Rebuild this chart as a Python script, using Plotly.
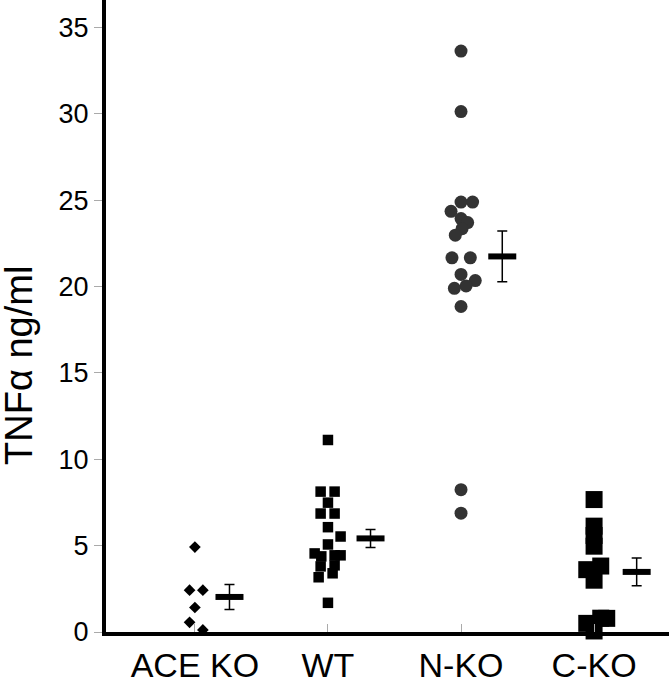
import plotly.graph_objects as go

groups = ["ACE KO", "WT", "N-KO", "C-KO"]

# values (ng/ml) and horizontal scatter offsets (in category units)
ace_vals = [4.92, 2.42, 2.42, 1.42, 0.56, 0.12]
ace_offs = [0.0, -0.04, 0.06, 0.0, -0.04, 0.06]

wt_vals = [11.12, 8.13, 8.13, 7.49, 6.86, 6.86, 6.07, 5.53, 5.07, 4.55, 4.38, 4.44, 4.44,
           3.80, 3.86, 3.40, 3.17, 1.69]
wt_offs = [0.0, -0.055, 0.05, 0.0, -0.055, 0.05, 0.0, 0.095, 0.0, -0.1, -0.05, 0.05, 0.095,
           -0.055, 0.05, 0.035, -0.07, 0.0]

nko_vals = [33.64, 30.14, 24.9, 24.9, 24.36, 23.94, 23.71, 23.36, 22.98, 21.67, 21.67,
            20.71, 20.35, 20.04, 19.90, 18.85, 8.24, 6.88]
nko_offs = [0.0, 0.0, 0.0, 0.087, -0.075, 0.0, 0.05, 0.008, -0.043, -0.068, 0.07,
            0.0, 0.107, 0.038, -0.05, 0.0, 0.0, 0.0]

cko_vals = [7.67, 6.13, 5.59, 4.97, 3.82, 3.61, 3.0, 0.79, 0.8, 0.5, 0.06]
cko_offs = [0.0, 0.0, 0.0, 0.0, 0.05, -0.055, 0.0, 0.095, 0.05, -0.055, 0.0]

means = [2.03, 5.42, 21.75, 3.48]
sems = [0.72, 0.52, 1.47, 0.80]
mean_offsets = [0.26, 0.32, 0.31, 0.32]

y_title = "TNFα ng/ml"

styles = [
    (ace_vals, ace_offs, "diamond", 9, "#000000"),
    (wt_vals, wt_offs, "square", 10.5, "#000000"),
    (nko_vals, nko_offs, "circle", 13, "#333333"),
    (cko_vals, cko_offs, "square", 17, "#000000"),
]

fig = go.Figure()
for i, (vals, offs, sym, sz, col) in enumerate(styles):
    fig.add_trace(go.Scatter(
        x=[i + o for o in offs], y=vals, mode="markers",
        marker=dict(symbol=sym, size=sz, color=col, line=dict(width=0)),
        showlegend=False, cliponaxis=False,
    ))

fig.add_trace(go.Scatter(
    x=[i + mo for i, mo in enumerate(mean_offsets)], y=means, mode="markers",
    marker=dict(symbol="line-ew", size=20, line=dict(width=6, color="#000000"), color="#000000"),
    error_y=dict(type="data", array=sems, visible=True, thickness=1.5, width=5, color="#000000"),
    showlegend=False, cliponaxis=False,
))

font_family = "Arial, Liberation Sans, sans-serif"
fig.update_layout(
    width=669, height=679,
    margin=dict(l=106, r=0, t=0, b=47, autoexpand=False),
    paper_bgcolor="white", plot_bgcolor="white",
    font=dict(family=font_family, color="#000000"),
    xaxis=dict(
        range=[-0.668, 3.563],
        tickmode="array", tickvals=[0, 1, 2, 3], ticktext=groups,
        tickfont=dict(size=34, family=font_family, color="#000000"),
        ticks="inside", ticklen=8, tickcolor="#aaaaaa", tickwidth=1,
        showline=True, linecolor="#000000", linewidth=4,
        showgrid=False, zeroline=False, ticklabelstandoff=0, automargin=False,
    ),
    yaxis=dict(
        range=[0, 36.6],
        tickmode="array", tickvals=[0, 5, 10, 15, 20, 25, 30, 35],
        tickfont=dict(size=27, family=font_family, color="#000000"),
        ticks="outside", ticklen=8, tickcolor="#aaaaaa", tickwidth=1,
        showline=True, linecolor="#000000", linewidth=4,
        showgrid=False, zeroline=False, automargin=False,
    ),
    annotations=[dict(
        text=y_title, xref="paper", yref="paper", x=0, y=0.421,
        xanchor="center", yanchor="middle", xshift=-87, textangle=-90,
        showarrow=False, font=dict(size=38, family=font_family, color="#000000"),
    )],
)

fig.write_html("out.html", config={"displayModeBar": False},
               post_script="document.body.style.margin='0';document.body.style.overflow='hidden';")
